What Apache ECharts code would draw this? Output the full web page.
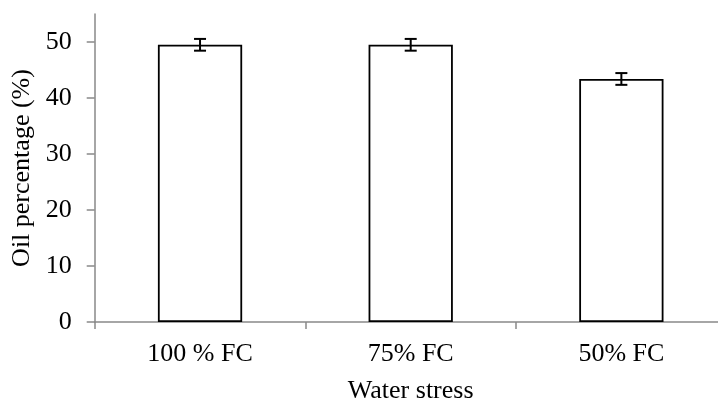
<!DOCTYPE html>
<html>
<head>
<meta charset="utf-8">
<script src="https://cdn.jsdelivr.net/npm/echarts@6/dist/echarts.min.js"></script>
<style>
html,body{margin:0;padding:0;background:#fff;}
#chart{width:718px;height:401px;}
</style>
</head>
<body>
<div id="chart"></div>
<script>
const categories = ['100 % FC', '75% FC', '50% FC'];
const oilValues = [49.5, 49.5, 43.4];
const errorValues = [1.05, 1.05, 1.05];
const yTicks = [0, 10, 20, 30, 40, 50];

const FONT = 'Liberation Serif';
const chart = echarts.init(document.getElementById('chart'));
const errData = oilValues.map((v, i) => [i, v - errorValues[i], v + errorValues[i]]);

chart.setOption({
  animation: false,
  backgroundColor: '#fff',
  grid: { left: 94.7, top: 14, width: 632, height: 308, containLabel: false, outerBoundsMode: 'none' },
  xAxis: {
    type: 'category',
    data: categories,
    name: 'Water stress',
    nameLocation: 'middle',
    nameGap: 56,
    nameTextStyle: { fontFamily: FONT, fontSize: 26, color: '#000' },
    axisLine: { lineStyle: { color: '#898989', width: 1.5 } },
    axisTick: { show: true, length: 7, lineStyle: { color: '#898989', width: 1.5 } },
    axisLabel: { fontFamily: FONT, fontSize: 26, color: '#000', margin: 19 }
  },
  yAxis: {
    type: 'value',
    min: 0,
    max: 55,
    interval: 10,
    name: 'Oil percentage (%)',
    nameLocation: 'middle',
    nameGap: 58,
    nameTextStyle: { fontFamily: FONT, fontSize: 26, color: '#000' },
    splitLine: { show: false },
    axisLine: { show: true, lineStyle: { color: '#898989', width: 1.5 } },
    axisTick: { show: true, length: 8, customValues: yTicks, lineStyle: { color: '#898989', width: 1.5 } },
    axisLabel: { fontFamily: FONT, fontSize: 26, color: '#000', margin: 23, customValues: yTicks }
  },
  series: [
    {
      type: 'bar',
      data: oilValues,
      barWidth: '40%',
      itemStyle: { color: '#fff', borderColor: '#000', borderWidth: 1.8 }
    },
    {
      type: 'custom',
      data: errData,
      z: 10,
      renderItem: function (params, api) {
        const x = api.value(0);
        const lo = api.coord([x, api.value(1)]);
        const hi = api.coord([x, api.value(2)]);
        const hw = 6;
        const style = { stroke: '#000', lineWidth: 2, fill: null };
        return {
          type: 'group',
          children: [
            { type: 'line', shape: { x1: hi[0], y1: hi[1], x2: lo[0], y2: lo[1] }, style: style },
            { type: 'line', shape: { x1: hi[0] - hw, y1: hi[1], x2: hi[0] + hw, y2: hi[1] }, style: style },
            { type: 'line', shape: { x1: lo[0] - hw, y1: lo[1], x2: lo[0] + hw, y2: lo[1] }, style: style }
          ]
        };
      }
    }
  ]
});
</script>
</body>
</html>
